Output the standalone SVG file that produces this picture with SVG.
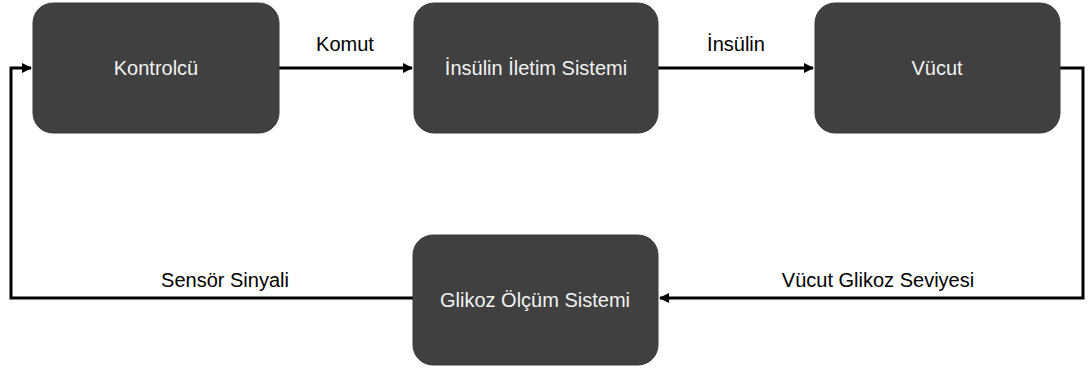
<svg xmlns="http://www.w3.org/2000/svg" width="1088" height="373" viewBox="0 0 1088 373">
<style>
.box{fill:#404040;stroke:#3a3a3a;stroke-width:1}
.nt{fill:#f2f2f2;font-family:"Liberation Sans",Arial,sans-serif;font-size:20px;text-anchor:middle;dominant-baseline:central}
.lt{fill:#000;font-family:"Liberation Sans",Arial,sans-serif;font-size:20px;text-anchor:middle}
.ln{fill:none;stroke:#000;stroke-width:3}
</style>
<defs>
<marker id="ah" markerWidth="10" markerHeight="10" refX="9" refY="5" orient="auto" markerUnits="userSpaceOnUse">
<path d="M0,0 L10,5 L0,10 Z" fill="#000"/>
</marker>
</defs>
<g id="connectors">
<path class="ln" d="M279,68 H412" marker-end="url(#ah)"/>
<path class="ln" d="M658,68 H813" marker-end="url(#ah)"/>
<path class="ln" d="M1060,68 H1083 V298 H660" marker-end="url(#ah)"/>
<path class="ln" d="M413,298 H11 V68 H31" marker-end="url(#ah)"/>
<text class="lt" x="345" y="51">Komut</text>
<text class="lt" x="736" y="51">İnsülin</text>
<text class="lt" x="225" y="287">Sensör Sinyali</text>
<text class="lt" x="878" y="287">Vücut Glikoz Seviyesi</text>
</g>
<g id="kontrolcu">
<rect class="box" x="33" y="3" width="246" height="130" rx="20"/>
<text class="nt" x="156" y="68">Kontrolcü</text>
</g>
<g id="insulin-iletim">
<rect class="box" x="414" y="3" width="244" height="130" rx="20"/>
<text class="nt" x="536" y="68">İnsülin İletim Sistemi</text>
</g>
<g id="vucut">
<rect class="box" x="815" y="3" width="245" height="130" rx="20"/>
<text class="nt" x="937" y="68">Vücut</text>
</g>
<g id="glikoz-olcum">
<rect class="box" x="413" y="235" width="245" height="130" rx="20"/>
<text class="nt" x="535" y="300">Glikoz Ölçüm Sistemi</text>
</g>
</svg>
